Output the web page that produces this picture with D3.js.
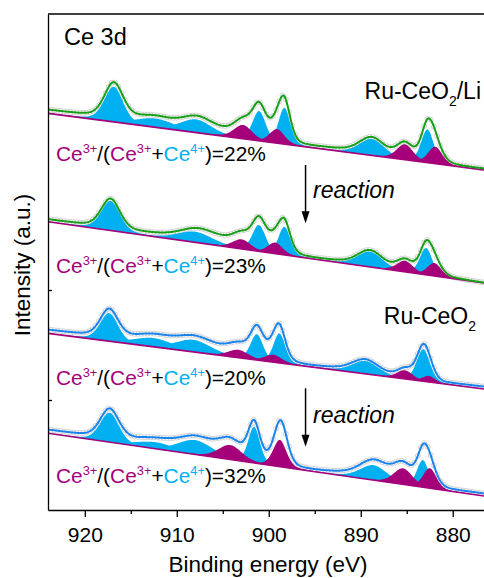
<!DOCTYPE html>
<html><head><meta charset="utf-8">
<script src="https://cdn.jsdelivr.net/npm/d3@7"></script>
<style>
body{margin:0;background:#fff}
svg{display:block}
text{font-family:"Liberation Sans",Arial,Helvetica,sans-serif;fill:#000}
</style></head>
<body><svg id="chart" width="484" height="578"></svg>
<script>
// ---------------- data ----------------
const xTicks = [920, 910, 900, 890, 880];
const xMinorTicks = [915, 905, 895, 885];
const yTicks = [10, 20];
const sampleNames = ["Ru-CeO2/Li", "Ru-CeO2/Li (reaction)", "Ru-CeO2", "Ru-CeO2 (reaction)"];
const ratios = [22, 23, 20, 32];           // Ce3+/(Ce3+ + Ce4+) in %
// linear background: intensity at 924 eV and at 876.6 eV
const baseLi  = [36.06, 30.91];
const baseLiR = [26.21, 20.64];
const baseCe  = [16.06, 11.00];
const baseCeR = [6.97, 1.27];
// fitted components: [centre (eV), height, FWHM (eV)]
const ce4Li  = [[916.85,3.20,2.4],[912.3,0.80,5.0],[907.9,1.20,4.0],[901.05,2.70,1.7],[898.3,3.30,1.5],[888.8,1.49,3.2],[882.75,3.02,1.6]];
const ce3Li  = [[902.8,1.25,2.3],[899.1,1.27,1.9],[885.2,1.40,2.1],[881.9,1.54,1.8]];
const ce4LiR = [[917.2,2.68,2.4],[908.0,0.97,4.5],[901.07,2.40,1.7],[898.3,2.57,1.5],[889.0,1.39,3.2],[882.9,2.44,1.6]];
const ce3LiR = [[902.95,0.87,2.3],[899.3,1.00,1.9],[885.2,1.00,2.1],[882.0,1.17,1.8]];
const ce4Ce  = [[917.35,2.55,2.3],[912.5,0.80,5.0],[908.2,1.10,4.5],[901.3,2.35,1.6],[898.85,2.69,1.5],[889.5,1.16,3.4],[883.2,2.91,1.7]];
const ce3Ce  = [[903.3,0.71,2.6],[899.5,0.67,2.2],[885.2,0.79,2.0],[882.6,0.55,1.6]];
const ce4CeR = [[917.3,2.68,2.4],[912.3,0.60,5.0],[908.0,1.31,4.5],[901.6,3.29,1.5],[898.6,1.60,1.6],[888.6,1.36,3.5],[883.25,2.47,1.5]];
const ce3CeR = [[904.2,1.32,3.0],[898.8,2.43,1.7],[885.4,1.46,2.4],[882.5,1.82,1.7]];
// envelope residual above the summed components, at 924, 921, ... 876 eV
const bgKnotsE = [924,921,918,915,912,909,906,903,900,897,894,891,888,885,882,879,876];
const bgLi  = [0.30,0.30,0.30,0.25,0.10,0.00,0.40,0.35,0.30,0.00,0.15,0.15,0.10,0.00,0.00,0.05,0.10];
const bgLiR = [0.20,0.20,0.20,0.20,0.28,0.10,0.60,0.50,0.40,0.00,0.10,0.10,0.10,0.00,0.00,0.00,0.00];
const bgCe  = [0.30,0.30,0.30,0.30,0.20,0.10,0.50,0.50,0.40,0.00,0.15,0.15,0.10,0.00,0.00,0.15,0.20];
const bgCeR = [0.30,0.30,0.30,0.30,0.20,0.10,0.40,0.30,0.20,0.00,0.15,0.30,0.50,0.30,0.00,0.15,0.20];

const spectra = [
  {name: sampleNames[0], base: baseLi,  ce4: ce4Li,  ce3: ce3Li,  bg: bgLi,  ratio: ratios[0], line: "#17a017"},
  {name: sampleNames[1], base: baseLiR, ce4: ce4LiR, ce3: ce3LiR, bg: bgLiR, ratio: ratios[1], line: "#17a017"},
  {name: sampleNames[2], base: baseCe,  ce4: ce4Ce,  ce3: ce3Ce,  bg: bgCe,  ratio: ratios[2], line: "#1a84ee"},
  {name: sampleNames[3], base: baseCeR, ce4: ce4CeR, ce3: ce3CeR, bg: bgCeR, ratio: ratios[3], line: "#1a84ee"}
];

// ---------------- chart ----------------
const PURPLE = "#a5007a", CYAN = "#00b0f0";
const svg = d3.select("#chart");
const L = 48, T = 14, R = 484, B = 510;
const x = d3.scaleLinear().domain([924, 876.6]).range([L, R]);
const y = d3.scaleLinear().domain([0, 45.09]).range([B, T]);
const eta = 0.3;
const pv = (E, c) => { const t = (E - c[0]) / c[2]; return c[1] * ((1 - eta) * Math.exp(-4 * Math.LN2 * t * t) + eta / (1 + 4 * t * t)); };
const grid = d3.range(876.6, 924.0001, 0.1);

spectra.forEach(s => {
  const bl = d3.scaleLinear().domain([924, 876.6]).range(s.base);
  const bgS = d3.interpolateBasis(s.bg);
  const bg = E => bgS((924 - E) / 48);
  const env = E => bl(E) + bg(E) + s.ce4.concat(s.ce3).reduce((a, c) => a + pv(E, c), 0);
  const g = svg.append("g");
  // raw data circles
  g.selectAll("circle").data(d3.range(876.8, 924, 0.35)).join("circle")
    .attr("cx", d => x(d)).attr("cy", d => y(env(d))).attr("r", 2.5)
    .attr("fill", "#fff").attr("stroke", "#c6c6c6").attr("stroke-width", 0.8);
  const area = c => d3.area().x(E => x(E)).y0(E => y(bl(E))).y1(E => y(bl(E) + pv(E, c)))(grid.filter(E => Math.abs(E - c[0]) < c[2] * 3.2));
  s.ce4.forEach(c => g.append("path").attr("d", area(c)).attr("fill", CYAN));
  s.ce3.forEach(c => g.append("path").attr("d", area(c)).attr("fill", PURPLE));
  g.append("path").attr("d", d3.line().x(E => x(E)).y(E => y(bl(E)))([924, 876.6]))
    .attr("stroke", PURPLE).attr("stroke-width", 1.6).attr("fill", "none");
  g.append("path").attr("d", d3.line().x(E => x(E)).y(E => y(env(E)))(grid))
    .attr("stroke", s.line).attr("stroke-width", 2).attr("fill", "none");
});

// axes
const ax = svg.append("g").attr("transform", `translate(0,${B})`);
ax.call(d3.axisBottom(x).tickValues(xTicks).tickSize(7).tickSizeOuter(0).tickPadding(10).tickFormat(d3.format("d")));
ax.append("g").call(d3.axisBottom(x).tickValues(xMinorTicks).tickSize(4).tickFormat(""))
  .select(".domain").remove();
ax.selectAll("text").attr("font-size", 21).attr("font-family", "Liberation Sans, Arial, sans-serif").attr("fill", "#000");
ax.selectAll("line,path").attr("stroke", "#000").attr("stroke-width", 1.3);
const ay = svg.append("g").attr("transform", `translate(${L},0)`);
ay.call(d3.axisLeft(y).tickValues(yTicks).tickSize(-4).tickSizeOuter(0).tickFormat(""));
ay.selectAll("line,path").attr("stroke", "#000").attr("stroke-width", 1.3);
svg.append("line").attr("x1", L).attr("x2", R).attr("y1", T).attr("y2", T).attr("stroke", "#000").attr("stroke-width", 1.3);

svg.append("text").attr("x", (L + R) / 2 + 2).attr("y", 572).attr("text-anchor", "middle").attr("font-size", 22.5).text("Binding energy (eV)");
svg.append("text").attr("transform", "translate(30,265) rotate(-90)").attr("text-anchor", "middle").attr("font-size", 22.5).text("Intensity (a.u.)");
svg.append("text").attr("x", 64).attr("y", 45).attr("font-size", 23.5).text("Ce 3d");

// sample labels
function sampleLabel(xr, yb, main, sub, tail) {
  const t = svg.append("text").attr("x", xr).attr("y", yb).attr("text-anchor", "end").attr("font-size", 23);
  t.append("tspan").text(main);
  t.append("tspan").attr("font-size", 14).attr("dy", 7).text(sub);
  if (tail) t.append("tspan").attr("dy", -7).text(tail);
}
sampleLabel(481, 99.3, "Ru-CeO", "2", "/Li");
sampleLabel(476, 324.3, "Ru-CeO", "2", null);

// ratio labels
const labelY = [161, 272.7, 385, 483.3];
spectra.forEach((s, i) => {
  const t = svg.append("text").attr("x", 56).attr("y", labelY[i]).attr("font-size", 20.9);
  const parts = [["Ce", PURPLE], ["3+", PURPLE, 1], ["/(", "#000"], ["Ce", PURPLE], ["3+", PURPLE, 1], ["+", "#000"], ["Ce", CYAN], ["4+", CYAN, 1], [")=" + s.ratio + "%", "#000"]];
  let up = false;
  parts.forEach(p => {
    const ts = t.append("tspan").attr("fill", p[1]).text(p[0]);
    if (p[2]) { ts.attr("font-size", 12.8).attr("dy", -8); up = true; }
    else if (up) { ts.attr("dy", 8); up = false; }
  });
});

// reaction arrows
[[165, 223.3, 198.3], [388.3, 446.7, 422.7]].forEach(a => {
  const ax0 = x(896);
  svg.append("line").attr("x1", ax0).attr("x2", ax0).attr("y1", a[0]).attr("y2", a[1] - 10).attr("stroke", "#000").attr("stroke-width", 1.5);
  svg.append("path").attr("d", `M${ax0 - 4},${a[1] - 12}L${ax0 + 4},${a[1] - 12}L${ax0},${a[1]}Z`).attr("fill", "#000");
  svg.append("text").attr("x", 313).attr("y", a[2]).attr("font-size", 23).attr("font-style", "italic").text("reaction");
});
</script></body></html>
